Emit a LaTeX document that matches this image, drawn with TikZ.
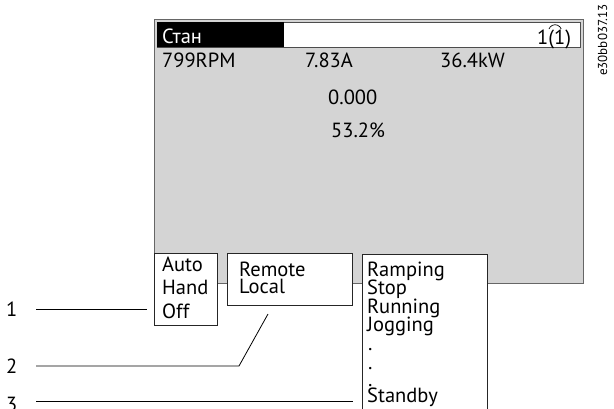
\documentclass[tikz,border=0pt]{standalone}
\usepackage{fontspec}
\setmainfont{PT Sans}
\begin{document}
\begin{tikzpicture}[x=1pt,y=-1pt,
  txt/.style={anchor=base west,inner sep=0pt,font=\fontsize{20.5}{20.5}\selectfont},
  box/.style={draw=black!85,line width=0.8pt,fill=white},
  lead/.style={draw=black,line width=0.8pt}]
\useasboundingbox (0,0) rectangle (614,408);
% display
\path[fill=black!17,draw=black!60,line width=1pt] (154,19) rectangle (583,283);
\path[draw=black!70,fill=white,line width=0.8pt] (157,22) rectangle (580,47);
\path[fill=black] (157,22) rectangle (284,47);
\node[txt,text=white] (stan) at (162,43) {Стан};
\node[txt] (page) at (537,44) {1(1)};
\draw[line width=0.7pt] (549,29) arc[start angle=160,end angle=20,radius=6.5pt];
\node[txt] (rpm) at (162,67) {799RPM};
\node[txt] (amp) at (305,67) {7.83A};
\node[txt] (kw) at (440,67) {36.4kW};
\node[txt] (ref) at (328,104) {0.000};
\node[txt] (pct) at (331,137) {53.2\%};
% boxes
\path[box] (154,253) rectangle (217,325);
\node[txt] (auto) at (162,271) {Auto};
\node[txt] (hand) at (162,294) {Hand};
\node[txt] (off) at (162,318) {Off};
\path[box] (227,253) rectangle (352,305);
\coordinate (b2) at (268,314);
\node[txt] (remote) at (239,276) {Remote};
\node[txt] (local) at (239,293) {Local};
\path[fill=white] (362,254) rectangle (487,410);
\draw[draw=black!85,line width=0.8pt] (362,410) -- (362,254) -- (487,254) -- (487,410);
\coordinate (b3) at (353,401);
\node[txt] (ramp) at (367,276) {Ramping};
\node[txt] (stop) at (367,294) {Stop};
\node[txt] (run) at (367,313) {Running};
\node[txt] (jog) at (367,331) {Jogging};
\node[txt] (d1) at (368,350) {.};
\node[txt] (d2) at (368,369) {.};
\node[txt] (d3) at (368,386) {.};
\node[txt] (stby) at (367,402) {Standby};
% callouts
\node[txt] (n1) at (6,316) {1};
\node[txt] (n2) at (6,373) {2};
\node[txt] (n3) at (6,411) {3};
\coordinate (l1) at (36,309);
\coordinate (b1) at (147,309);
\coordinate (l2) at (36,366);
\coordinate (k2) at (239,366);
\coordinate (l3) at (36,401);
\draw[lead] (l1) -- (b1);
\draw[lead] (l2) -- (k2) -- (b2);
\draw[lead] (l3) -- (b3);
% id
\node[rotate=90,anchor=base,inner sep=0pt,font=\fontsize{13}{13}\selectfont] (id) at (607,40) {e30bb037.13};
\end{tikzpicture}
\end{document}
